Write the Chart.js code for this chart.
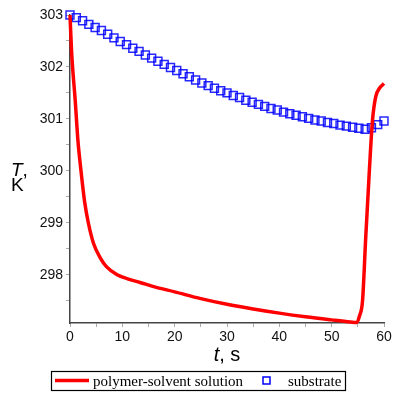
<!DOCTYPE html>
<html>
<head>
<meta charset="utf-8">
<script src="https://cdn.jsdelivr.net/npm/chart.js@4.4.1/dist/chart.umd.min.js"></script>
<style>
  html, body { margin: 0; padding: 0; background: #fff; }
  #wrap { width: 399px; height: 399px; position: relative; }
</style>
</head>
<body>
<div id="wrap"><canvas id="chart"></canvas></div>
<script>
// Values
const solutionTime = [0, 0.3, 1.0, 1.5, 2.1, 2.8, 3.5, 4.5, 5.75, 7, 9, 11, 13.4, 16, 20, 25, 30, 35, 40, 45, 50, 53.6, 54.8, 55.3, 55.9, 56.5, 57.2, 57.8, 58.4, 59.2, 60];
const solutionTemp = [303.0, 302.3, 301.35, 300.6, 300.0, 299.4, 299.0, 298.6, 298.33, 298.15, 298.0, 297.92, 297.85, 297.77, 297.67, 297.54, 297.43, 297.34, 297.26, 297.19, 297.13, 297.09, 297.08, 297.2, 297.5, 298.7, 300.0, 300.97, 301.42, 301.6, 301.68];

const substrateTime = [0, 1.2, 2.4, 3.6, 4.8, 6, 7.2, 8.4, 9.6, 10.8, 12, 13.2, 14.4, 15.6, 16.8, 18, 19.2, 20.4, 21.6, 22.8, 24, 25.2, 26.4, 27.6, 28.8, 30, 31.2, 32.4, 33.6, 34.8, 36, 37.2, 38.4, 39.6, 40.8, 42, 43.2, 44.4, 45.6, 46.8, 48, 49.2, 50.4, 51.6, 52.8, 54, 55.2, 56.4, 57.6, 58.8, 60];
const substrateTemp = [303.00, 302.95, 302.89, 302.82, 302.76, 302.70, 302.63, 302.56, 302.49, 302.43, 302.36, 302.30, 302.23, 302.17, 302.11, 302.05, 301.99, 301.93, 301.87, 301.81, 301.75, 301.69, 301.64, 301.59, 301.54, 301.50, 301.45, 301.41, 301.36, 301.32, 301.28, 301.24, 301.20, 301.17, 301.13, 301.10, 301.07, 301.04, 301.01, 300.98, 300.96, 300.93, 300.91, 300.88, 300.86, 300.84, 300.82, 300.80, 300.83, 300.89, 300.96];

const seriesLabels = ['polymer-solvent solution', 'substrate'];
const xTickLabels = [0, 10, 20, 30, 40, 50, 60];
const yTickLabels = [298, 299, 300, 301, 302, 303];

const RED = '#ff0000';
const BLUE = '#0000ff';

// zip time/value arrays into points
function toPoints(xs, ys) {
    return xs.map((x, i) => ({ x: x, y: ys[i] }));
}

// Axis titles with italic symbol + upright unit
const axisTitles = {
    id: 'axisTitles',
    afterDraw(chart) {
        const ctx = chart.ctx;
        const area = chart.chartArea;
        ctx.save();
        ctx.fillStyle = '#000';
        ctx.textBaseline = 'alphabetic';
        ctx.textAlign = 'left';

        // y title: "T," over "K"
        ctx.font = 'italic 19px "Liberation Sans", Arial, sans-serif';
        ctx.fillText('T', 11, 176);
        const tw = ctx.measureText('T').width;
        ctx.font = '19px "Liberation Sans", Arial, sans-serif';
        ctx.fillText(',', 11 + tw, 176);
        ctx.fillText('K', 11, 191);

        // x title: "t, s"
        const cx = (area.left + area.right) / 2;
        ctx.font = 'italic 20px "Liberation Sans", Arial, sans-serif';
        const w1 = ctx.measureText('t').width;
        ctx.font = '20px "Liberation Sans", Arial, sans-serif';
        const w2 = ctx.measureText(', s').width;
        const x0 = cx - (w1 + w2) / 2;
        ctx.font = 'italic 20px "Liberation Sans", Arial, sans-serif';
        ctx.fillText('t', x0, 361);
        ctx.font = '20px "Liberation Sans", Arial, sans-serif';
        ctx.fillText(', s', x0 + w1, 361);
        ctx.restore();
    }
};

// Boxed legend under the plot
const boxedLegend = {
    id: 'boxedLegend',
    afterDraw(chart) {
        const ctx = chart.ctx;
        ctx.save();
        ctx.strokeStyle = '#000';
        ctx.lineWidth = 1.2;
        ctx.strokeRect(51.5, 371.5, 294, 19);

        ctx.strokeStyle = RED;
        ctx.lineWidth = 3.5;
        ctx.beginPath();
        ctx.moveTo(55, 380.5);
        ctx.lineTo(89, 380.5);
        ctx.stroke();

        ctx.strokeStyle = BLUE;
        ctx.lineWidth = 1.5;
        ctx.strokeRect(263, 377, 7, 7);

        ctx.fillStyle = '#000';
        ctx.font = '15px "Liberation Serif", "Times New Roman", serif';
        ctx.textBaseline = 'alphabetic';
        ctx.fillText(seriesLabels[0], 93, 386);
        ctx.fillText(seriesLabels[1], 288, 386);
        ctx.restore();
    }
};

const tickFont = { family: '"Liberation Sans", Arial, sans-serif', size: 14 };

const ctx = document.getElementById('chart').getContext('2d');
new Chart(ctx, {
    type: 'line',
    data: {
        datasets: [{
            label: seriesLabels[0],
            data: toPoints(solutionTime, solutionTemp),
            borderColor: RED,
            borderWidth: 3.5,
            pointRadius: 0,
            cubicInterpolationMode: 'monotone',
            fill: false,
            clip: false
        }, {
            label: seriesLabels[1],
            data: toPoints(substrateTime, substrateTemp),
            showLine: false,
            pointStyle: 'rect',
            pointRadius: 5.6,
            pointBorderWidth: 1.5,
            pointBorderColor: 'rgba(0,0,255,0.85)',
            pointBackgroundColor: 'rgba(0,0,0,0)',
            clip: false
        }]
    },
    options: {
        responsive: true,
        maintainAspectRatio: false,
        animation: false,
        layout: { padding: { left: 0, right: 15, top: 15, bottom: 0 } },
        plugins: {
            legend: { display: false },
            tooltip: { enabled: false }
        },
        scales: {
            x: {
                type: 'linear',
                min: 0,
                max: 60,
                afterFit(scale) { scale.height = 76; },
                ticks: {
                    stepSize: 5,
                    padding: 2,
                    color: '#111',
                    font: tickFont,
                    maxRotation: 0,
                    callback: (v) => xTickLabels.includes(v) ? String(v) : ''
                },
                grid: { drawOnChartArea: false, tickLength: 4, color: '#aaa' },
                border: { display: true, color: '#444', width: 1.5 }
            },
            y: {
                type: 'linear',
                min: 297.07,
                max: 303,
                afterFit(scale) { scale.width = 70; },
                afterBuildTicks(scale) {
                    scale.ticks = scale.ticks.filter(t => Math.abs(t.value * 2 - Math.round(t.value * 2)) < 1e-6);
                },
                ticks: {
                    stepSize: 0.5,
                    padding: 3,
                    color: '#111',
                    font: tickFont,
                    callback: (v) => yTickLabels.includes(v) ? String(v) : ''
                },
                grid: { drawOnChartArea: false, tickLength: 4, color: '#aaa' },
                border: { display: true, color: '#444', width: 1.5 }
            }
        }
    },
    plugins: [axisTitles, boxedLegend]
});
</script>
</body>
</html>
